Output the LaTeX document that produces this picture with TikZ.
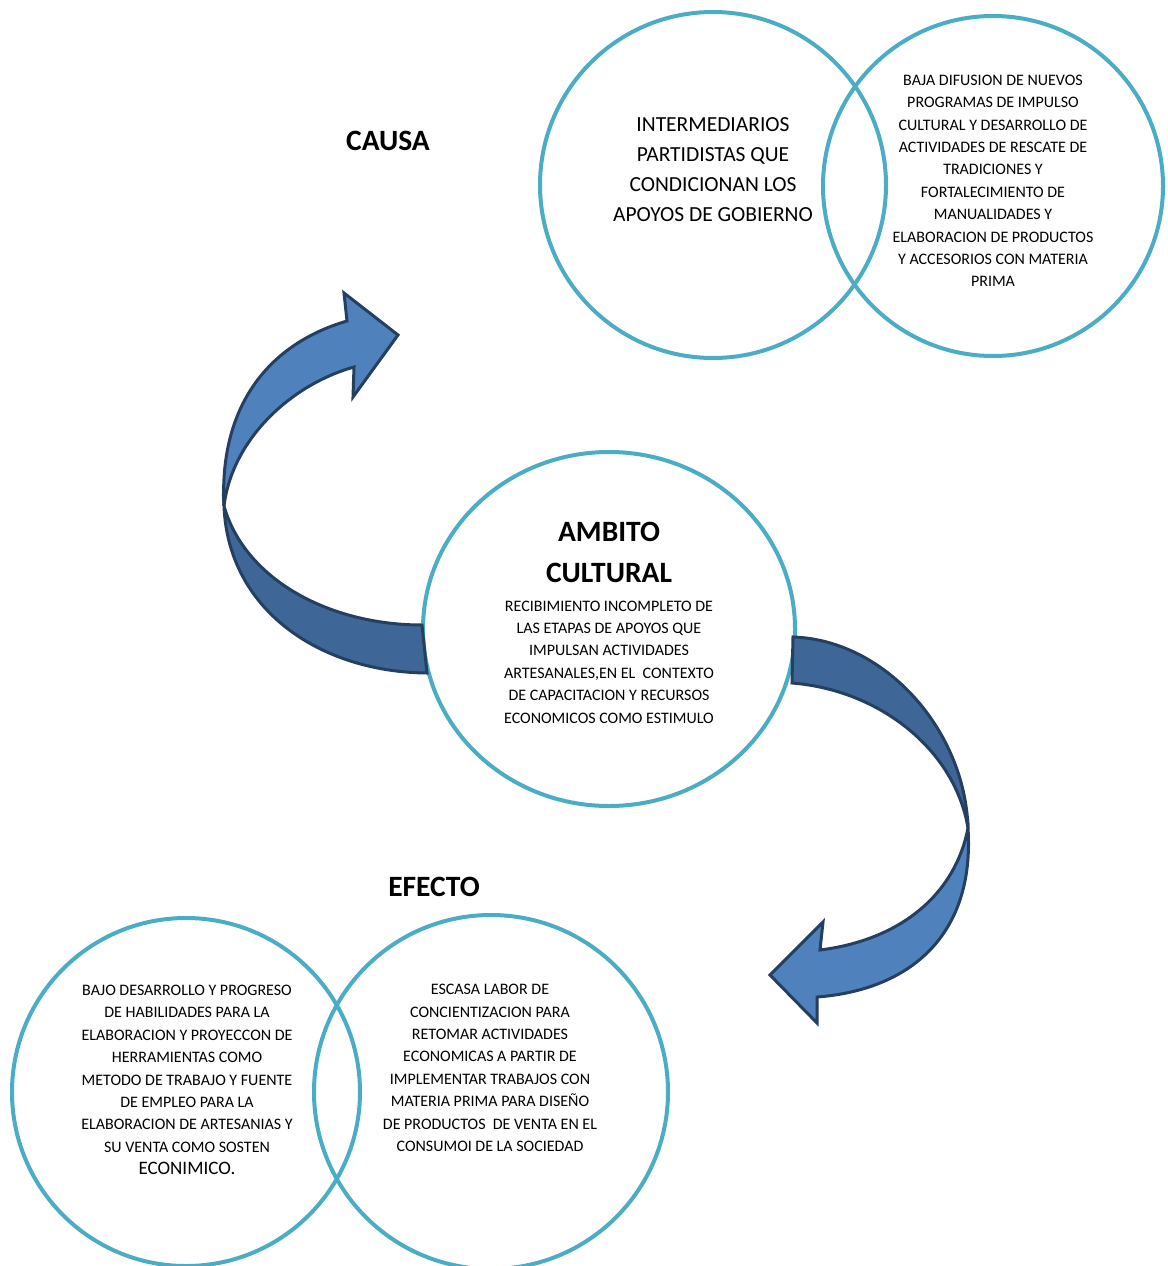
\documentclass[tikz,border=0pt]{standalone}
\usepackage{fontspec}
\setmainfont{Carlito}
\usepackage{xcolor}
\usetikzlibrary{shapes.geometric,positioning}

\definecolor{ringblue}{HTML}{4BACC6}
\definecolor{arrowfront}{HTML}{4F81BD}
\definecolor{arrowback}{HTML}{3E6696}
\definecolor{arrowline}{HTML}{243F60}

\begin{document}
\begin{tikzpicture}[x=1pt,y=-1pt,
  ring/.style={circle, draw=ringblue, line width=4pt, minimum size=346pt, inner sep=0pt},
  txt/.style={align=center, inner sep=0pt, font=\fontsize{16}{22.4}\selectfont},
  bigtxt/.style={align=center, inner sep=0pt, font=\fontsize{21.5}{30}\selectfont},
  title/.style={align=center, inner sep=0pt, font=\bfseries\fontsize{29.5}{41}\selectfont},
  curvedarrow/.style={draw=arrowline, line width=3pt, line join=miter}
]
\useasboundingbox (0,0) rectangle (1167,1266);

% Causas
\node[ring] (intermed) at (713,185) {};
\node[ring, minimum size=340pt] (difusion) at (993,186) {};
\node[title] (causa) at (388,141) {CAUSA};
\node[bigtxt] at (713,170) {INTERMEDIARIOS\\PARTIDISTAS QUE\\CONDICIONAN LOS\\APOYOS DE GOBIERNO};
\node[txt] at (993,181) {BAJA DIFUSION DE NUEVOS\\PROGRAMAS DE IMPULSO\\CULTURAL Y DESARROLLO DE\\ACTIVIDADES DE RESCATE DE\\TRADICIONES Y\\FORTALECIMIENTO DE\\MANUALIDADES Y\\ELABORACION DE PRODUCTOS\\Y ACCESORIOS CON MATERIA\\PRIMA};

% Ambito
\node[ellipse, draw=ringblue, line width=4pt, minimum width=372pt, minimum height=354pt, inner sep=0pt] (ambito) at (609,629) {};
\node[title] at (609,552) {AMBITO\\CULTURAL};
\node[txt] at (609,662) {RECIBIMIENTO INCOMPLETO DE\\LAS ETAPAS DE APOYOS QUE\\IMPULSAN ACTIVIDADES\\ARTESANALES,EN EL\ \ CONTEXTO\\DE CAPACITACION Y RECURSOS\\ECONOMICOS COMO ESTIMULO};

% Efectos
\node[ring, minimum size=348pt] (habilidad) at (186,1092) {};
\node[ring, minimum size=354pt] (labor) at (491,1092) {};
\node[title] (efecto) at (434,887) {EFECTO};
\node[txt] at (187,1080) {BAJO DESARROLLO Y PROGRESO\\DE HABILIDADES PARA LA\\ELABORACION Y PROYECCON DE\\HERRAMIENTAS COMO\\METODO DE TRABAJO Y FUENTE\\DE EMPLEO PARA LA\\ELABORACION DE ARTESANIAS Y\\SU VENTA COMO SOSTEN\\{\fontsize{19}{24}\selectfont ECONIMICO.}};
\node[txt] at (490,1068) {ESCASA LABOR DE\\CONCIENTIZACION PARA\\RETOMAR ACTIVIDADES\\ECONOMICAS A PARTIR DE\\IMPLEMENTAR TRABAJOS CON\\MATERIA PRIMA PARA DISEÑO\\DE PRODUCTOS\ \ DE VENTA EN EL\\CONSUMOI DE LA SOCIEDAD};

% Flecha hacia la causa
\draw[curvedarrow, fill=arrowback] (224,506) .. controls (228,610) and (320,672) .. (427,673) -- (422,625) .. controls (330,625) and (245,580) .. (224,506) -- cycle;
\draw[curvedarrow, fill=arrowfront] (224,506) .. controls (219,410) and (265,345) .. (347,321) -- (344,293) -- (398,335) -- (353,397) -- (354,367) .. controls (290,385) and (232,440) .. (224,506) -- cycle;

% Flecha hacia el efecto
\draw[curvedarrow, fill=arrowback] (793,637) .. controls (885,640) and (965,730) .. (968,828) .. controls (955,750) and (880,690) .. (792,683) -- cycle;
\draw[curvedarrow, fill=arrowfront] (968,828) .. controls (975,935) and (910,990) .. (817,997) -- (817,1023) -- (770,975) -- (823,922) -- (820,950) .. controls (900,940) and (955,895) .. (968,828) -- cycle;
\end{tikzpicture}
\end{document}
